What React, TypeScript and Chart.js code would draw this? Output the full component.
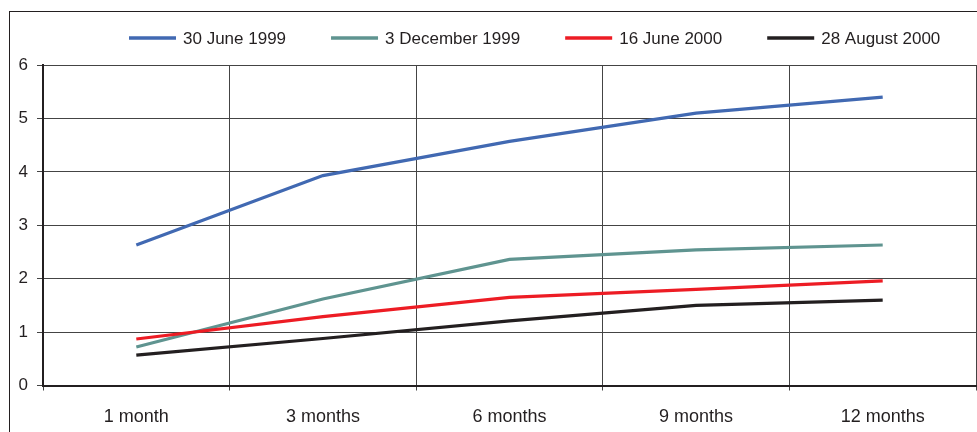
import React, { useEffect, useRef } from 'react';
import { Chart, registerables } from 'chart.js';

Chart.register(...registerables);

const categories = ['1 month', '3 months', '6 months', '9 months', '12 months'];
const seriesLabels = ['30 June 1999', '3 December 1999', '16 June 2000', '28 August 2000'];
const june1999 = [2.63, 3.93, 4.57, 5.1, 5.4];
const dec1999 = [0.72, 1.62, 2.36, 2.54, 2.63];
const june2000 = [0.87, 1.29, 1.65, 1.8, 1.96];
const aug2000 = [0.57, 0.88, 1.21, 1.5, 1.6];
const yMin = 0;
const yMax = 6;
const yStep = 1;

const seriesValues = [june1999, dec1999, june2000, aug2000];
const seriesColors = ['#4169b2', '#5f9490', '#ed1c24', '#231f20'];
const INK = '#231f20';
const FONT = '"Liberation Sans", Arial, Helvetica, sans-serif';

const legendPlugin = {
  id: 'refLegend',
  afterDraw(chart: any) {
    const ctx = chart.ctx as CanvasRenderingContext2D;
    ctx.save();
    ctx.font = `17px ${FONT}`;
    ctx.textBaseline = 'alphabetic';
    ctx.textAlign = 'left';
    let x = 129;
    const y = 38;
    chart.data.datasets.forEach((ds: any) => {
      ctx.strokeStyle = ds.borderColor;
      ctx.lineWidth = 3.5;
      ctx.beginPath();
      ctx.moveTo(x, y);
      ctx.lineTo(x + 47, y);
      ctx.stroke();
      ctx.fillStyle = INK;
      ctx.fillText(ds.label, x + 54, y + 6.3);
      x += 47 + 7 + ctx.measureText(ds.label).width + 45;
    });
    ctx.restore();
  },
};

export default function App() {
  const ref = useRef<HTMLCanvasElement | null>(null);

  useEffect(() => {
    if (!ref.current) return;
    Chart.defaults.font.family = FONT;
    Chart.defaults.color = INK;
    const chart = new Chart(ref.current, {
      type: 'line',
      data: {
        labels: categories,
        datasets: seriesValues.map((vals, i) => ({
          label: seriesLabels[i],
          data: vals,
          borderColor: seriesColors[i],
          backgroundColor: seriesColors[i],
          borderWidth: 3.2,
          pointRadius: 0,
          tension: 0,
          fill: false,
          order: seriesValues.length - i,
        })),
      },
      options: {
        animation: false,
        responsive: true,
        maintainAspectRatio: false,
        layout: { padding: { top: 65, left: 9, right: 1, bottom: 0 } },
        plugins: {
          legend: { display: false },
          tooltip: { enabled: false },
        },
        scales: {
          x: {
            offset: true,
            grid: {
              offset: true,
              color: '#444',
              lineWidth: 1,
              tickLength: 5,
              drawTicks: true,
            },
            border: { display: true, color: INK, width: 2 },
            ticks: { font: { size: 18 }, color: INK, padding: 16, maxRotation: 0 },
            afterFit: (scale: any) => {
              scale.height = 46.5;
            },
          },
          y: {
            min: yMin,
            max: yMax,
            grid: { color: '#444', lineWidth: 1, tickLength: 6 },
            border: { display: true, color: INK, width: 2 },
            ticks: { stepSize: yStep, font: { size: 17 }, color: INK, padding: 9 },
            afterFit: (scale: any) => {
              scale.width = 34;
            },
          },
        },
      },
      plugins: [legendPlugin],
    });
    return () => chart.destroy();
  }, []);

  return (
    <div
      style={{
        position: 'fixed',
        left: 0,
        top: 0,
        width: 977,
        height: 432,
        overflow: 'hidden',
        background: '#fff',
      }}
    >
      <div
        style={{
          position: 'absolute',
          left: 9,
          top: 11,
          width: 1100,
          height: 600,
          border: `1px solid ${INK}`,
          boxSizing: 'border-box',
        }}
      />
      <div style={{ position: 'absolute', left: 0, top: 0, width: 977, height: 432 }}>
        <canvas ref={ref} />
      </div>
    </div>
  );
}
